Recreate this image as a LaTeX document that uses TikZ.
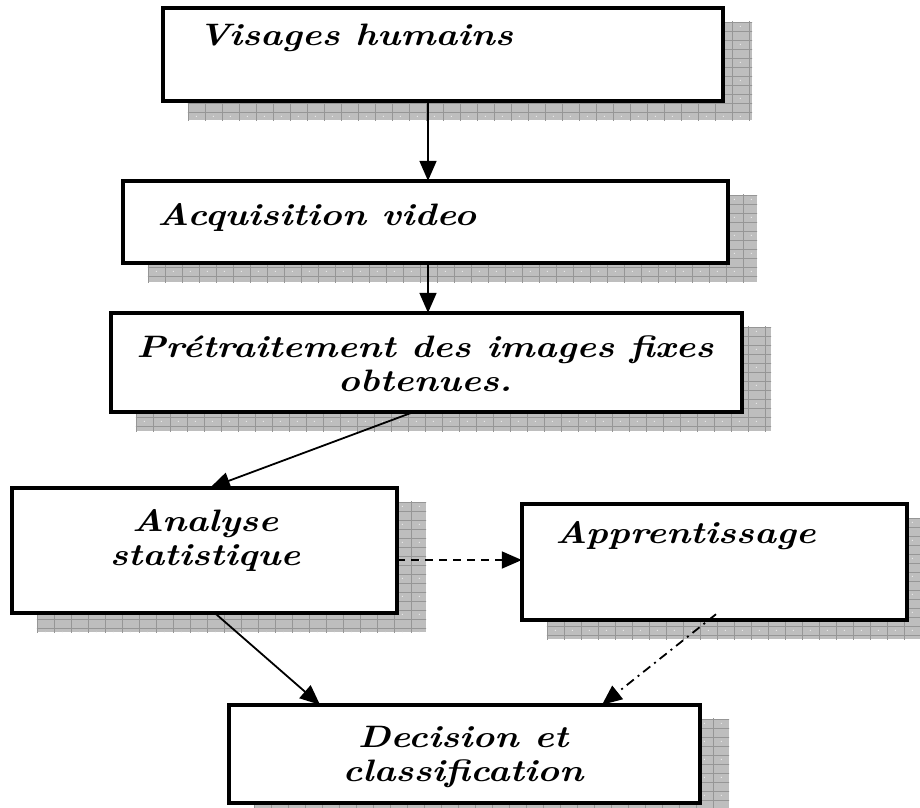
\documentclass[tikz,border=0pt]{standalone}
\usepackage{fontspec}
\usetikzlibrary{arrows.meta,calc}

% wide bold italic face for the box labels
\newfontfamily\labelfont[FakeStretch=1.2]{lmroman10-bolditalic.otf}

\definecolor{shadefill}{RGB}{190,190,190}
\definecolor{shadeline}{RGB}{150,150,150}

\tikzset{
  flowbox/.style={draw=black, line width=3.5pt, fill=white, inner sep=0pt},
  captiontext/.style={font=\labelfont\fontsize{31}{34}\selectfont, inner sep=0pt},
  link/.style={line width=1.8pt, -{Triangle[length=20pt,width=17pt]}},
  dashlink/.style={link, dash pattern=on 8pt off 6pt},
  dotdashlink/.style={link, dash pattern=on 9pt off 5pt on 2pt off 5pt},
}

% textured drop shadow behind a box node: #1 = node name
\newcommand\dropshade[1]{%
  \begin{scope}
    \clip ($(#1.north west)+(25,14)$) rectangle ($(#1.south east)+(29,19)$);
    \fill[shadefill] ($(#1.north west)+(25,14)$) rectangle ($(#1.south east)+(29,19)$);
    \foreach \gx in {0,17,...,680}
      \draw[shadeline, line width=0.6pt] ($(#1.north west)+(25+\gx,0)$) -- ($(#1.south west)+(25+\gx,30)$);
    \foreach \gy in {0,9,...,150}
      \draw[shadeline, line width=0.4pt] ($(#1.north west)+(0,14+\gy)$) -- ($(#1.north east)+(40,14+\gy)$);
    \foreach \gx in {0,17,...,680}
      \foreach \gy in {0,18,...,150}
        \fill[white!85!shadefill] ($(#1.north west)+(33.5+\gx,18.5+\gy)$) circle[radius=0.6];
  \end{scope}}

\begin{document}
\begin{tikzpicture}[x=1pt,y=-1pt]
  \useasboundingbox (0,0) rectangle (920,807);

  % box geometry (node paths only, drawn after the shadows)
  \path
    (443,54.5)   node[minimum width=560pt, minimum height=93pt,  inner sep=0pt] (b1) {}
    (425.5,222)  node[minimum width=605pt, minimum height=82pt,  inner sep=0pt] (b2) {}
    (426.5,362.5) node[minimum width=631pt, minimum height=99pt, inner sep=0pt] (b3) {}
    (204.5,550.5) node[minimum width=385pt, minimum height=125pt, inner sep=0pt] (b4) {}
    (714.5,562)  node[minimum width=385pt, minimum height=116pt, inner sep=0pt] (b5) {}
    (464.5,754)  node[minimum width=471pt, minimum height=98pt,  inner sep=0pt] (b6) {};

  \dropshade{b1}
  \dropshade{b2}
  \dropshade{b3}
  \dropshade{b4}
  \dropshade{b5}
  \dropshade{b6}

  \foreach \b in {b1,b2,b3,b4,b5,b6}
    \draw[flowbox] (\b.north west) rectangle (\b.south east);

  % labels
  \node[captiontext, anchor=base west] (t1) at (198,45) {Visages humains};
  \node[captiontext, anchor=base west] (t2) at (157,225) {Acquisition video};
  \node[captiontext, align=center] (t3) at (425,364) {Prétraitement des images fixes\\obtenues.};
  \node[captiontext, align=center] (t4) at (205,540) {Analyse\\statistique};
  \node[captiontext, anchor=base west] (t5) at (555,543) {Apprentissage};
  \node[captiontext, align=center] (t6) at (463,757) {Decision et\\classification};

  % connectors
  \draw[link] ($(b1.south)+(-15,0)$) -- ($(b2.north)+(2.5,0)$);
  \draw[link] ($(b2.south)+(2.5,0)$) -- ($(b3.north)+(1.5,0)$);
  \draw[link] ($(b3.south)+(-13.5,0)$) -- ($(b4.north)+(5.5,0)$);
  \draw[dashlink] ($(b4.east)+(0,9.5)$) -- ($(b5.west)+(0,-2)$);
  \draw[link] ($(b4.south)+(10.5,0)$) -- ($(b6.north)+(-144.5,0)$);
  \draw[dotdashlink] ($(b5.south)+(1.5,-6)$) -- ($(b6.north)+(137.5,0)$);
\end{tikzpicture}
\end{document}
